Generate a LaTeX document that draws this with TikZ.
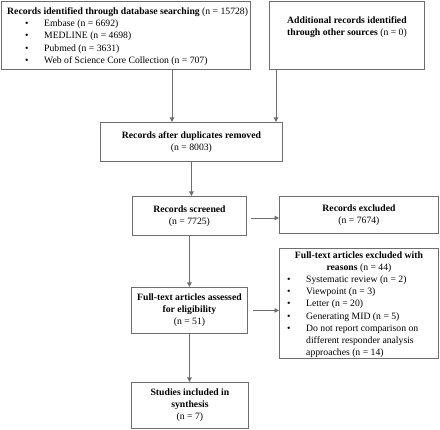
\documentclass[tikz,border=0pt]{standalone}
\usepackage{fontspec}
\setmainfont{Liberation Serif}
\usetikzlibrary{arrows.meta,calc}
\definecolor{edge}{HTML}{6E6E6E}
\tikzset{
  box/.style={draw=edge, line width=0.9pt, inner sep=0pt, anchor=north west},
  txt/.style={inner sep=0pt, font=\fontsize{9.7}{12.2}\selectfont},
  arr/.style={draw=edge, line width=0.9pt, -{Triangle[length=4.5pt,width=4.5pt]}}
}
\newcommand{\bul}{\makebox[19pt][l]{\textbullet}}
\begin{document}
\begin{tikzpicture}[x=1pt,y=-1pt]
\useasboundingbox (0,0) rectangle (440,430);
% boxes
\node[box, minimum width=249, minimum height=68] (db) at (1,1) {};
\node[box, minimum width=155, minimum height=68] (add) at (269,1) {};
\node[box, minimum width=182, minimum height=39] (dup) at (100,122) {};
\node[box, minimum width=114, minimum height=39] (scr) at (132,196) {};
\node[box, minimum width=159, minimum height=37] (exc) at (279,196.5) {};
\node[box, minimum width=116, minimum height=46] (fta) at (131,287) {};
\node[box, minimum width=159, minimum height=110] (fte) at (279,248) {};
\node[box, minimum width=117, minimum height=46] (inc) at (131,382) {};
% texts
\node[txt, anchor=north west, align=left] (dbt) at (7,7.5) {%
\textbf{Records identified through database searching} (n = 15728)\\
\hspace*{18pt}\bul Embase (n = 6692)\\
\hspace*{18pt}\bul MEDLINE (n = 4698)\\
\hspace*{18pt}\bul Pubmed (n = 3631)\\
\hspace*{18pt}\bul Web of Science Core Collection (n = 707)};
\node[txt, anchor=north, align=center] (addt) at ($(add.north)+(0,15.5)$) {%
\textbf{Additional records identified}\\
\textbf{through other sources} (n = 0)};
\node[txt, align=center] (dupt) at (dup.center) {\textbf{Records after duplicates removed}\\(n = 8003)};
\node[txt, align=center] (scrt) at (scr.center) {\textbf{Records screened}\\(n = 7725)};
\node[txt, align=center] (exct) at (exc.center) {\textbf{Records excluded}\\(n = 7674)};
\node[txt, align=center] (ftat) at (fta.center) {\textbf{Full-text articles assessed}\\\textbf{for eligibility}\\(n = 51)};
\node[txt, align=center] (inct) at (inc.center) {\textbf{Studies included in}\\\textbf{synthesis}\\(n = 7)};
\node[txt, anchor=north, align=center] (fteh) at ($(fte.north)+(0,3.5)$) {%
\textbf{Full-text articles excluded with}\\\textbf{reasons} (n = 44)};
\node[txt, anchor=north west, align=left] (ftel) at ($(fte.north west)+(8,27.5)$) {%
\bul Systematic review (n = 2)\\
\bul Viewpoint (n = 3)\\
\bul Letter (n = 20)\\
\bul Generating MID (n = 5)\\
\bul Do not report comparison on\\
\hspace*{19pt}different responder analysis\\
\hspace*{19pt}approaches (n = 14)};
% connectors
\coordinate (xa) at (172,0);
\coordinate (xb) at (276,0);
\draw[arr] (db.south -| xa) -- (dup.north -| xa);
\draw[arr] (add.south -| xb) -- (dup.north -| xb);
\draw[arr] (dup.south) -- (dup.south |- scr.north);
\coordinate (ya) at (0,218);
\draw[arr, shorten <=4pt] (scr.east |- ya) -- (exc.west |- ya);
\draw[arr] (scr.south) -- (scr.south |- fta.north);
\draw[arr, shorten <=5pt] (fta.east) -- (fta.east -| fte.west);
\draw[arr] (fta.south) -- (fta.south |- inc.north);
\end{tikzpicture}
\end{document}
